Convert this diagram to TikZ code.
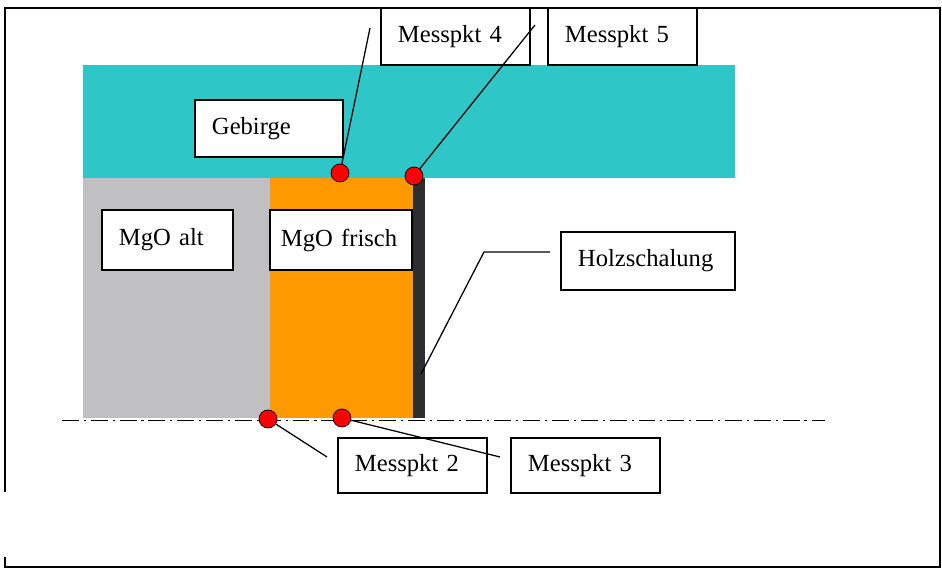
\documentclass[tikz,border=0pt]{standalone}
\usepackage{fontspec}
\setmainfont{Liberation Serif}
\usepackage{tikz}
\usetikzlibrary{calc}
\definecolor{gebirgecol}{RGB}{46,198,198}
\definecolor{altcol}{RGB}{192,192,194}
\definecolor{frischcol}{RGB}{255,153,0}
\definecolor{holzcol}{RGB}{45,45,48}
\tikzstyle{lbox} = [rectangle, 
text width=2.875cm, 
inner xsep=0.425cm, 
minimum height=1.425cm, 
align=left, 
draw=black, 
fill=white, 
line width=0.8pt, 
font=\fontsize{17.5}{20}\selectfont]
\tikzstyle{mpdot} = [circle, draw=black, fill=red, minimum size=0.45cm, inner sep=0pt, line width=0.5pt]
\tikzstyle{leader} = [line width=0.9pt]
\tikzstyle{axis} = [line width=0.7pt, dash pattern=on 12pt off 3.5pt on 1.5pt off 3.5pt]

\begin{document}
\begin{tikzpicture}[x=0.025cm, y=-0.025cm]
    \useasboundingbox (0,0) rectangle (942,570);

    % Rahmen
    \draw [line width=0.8pt] (5,492) -- (5,8) -- (940,8) -- (940,567) -- (5,567) -- (5,557);

    % Schichten
    \fill [gebirgecol] (83,65) rectangle (735,178);
    \fill [altcol] (83,178) rectangle (270,418);
    \fill [frischcol] (270,178) rectangle (413,418);
    \fill [holzcol] (413,178) rectangle (425,418);

    % Achse
    \draw [axis] (62,420) -- (825,420);

    % Beschriftungen
    \node (mp4) [lbox] at (455.5,36.5) {Messpkt 4};
    \node (mp5) [lbox] at (622.5,36.5) {Messpkt 5};
    \node (gebirge) [lbox, text width=2.85cm] at (269,128.5) {Gebirge};
    \node (mgoalt) [lbox, text width=2.425cm, minimum height=1.5cm] at (167.5,240) {MgO alt};
    \node (mgofrisch) [lbox, text width=3.0cm, inner xsep=0.275cm, minimum height=1.5cm] at (341,240) {MgO frisch};
    \node (holz) [lbox, text width=3.5cm, minimum height=1.45cm] at (648,261) {Holzschalung};
    \node (mp2) [lbox, minimum height=1.375cm] at (412.5,465.5) {Messpkt 2};
    \node (mp3) [lbox, minimum height=1.375cm] at (585.5,465.5) {Messpkt 3};

    % Messpunkte
    \node (p4) [mpdot] at (340,173) {};
    \node (p5) [mpdot] at (414,176) {};
    \node (p2) [mpdot] at (268,419) {};
    \node (p3) [mpdot] at (342,418) {};

    % Zeiger
    \coordinate (c4) at (370,28);
    \coordinate (c5) at (535,25);
    \coordinate (c2) at (327,457);
    \coordinate (c3) at (500,457);
    \coordinate (h1) at (550,252);
    \coordinate (h2) at (484,252);
    \coordinate (hs) at (421,374);
    \draw [leader] (c4) -- (p4);
    \draw [leader] (c5) -- (p5);
    \draw [leader] (p2) -- (c2);
    \draw [leader] (p3) -- (c3);
    \draw [leader] (h1) -- (h2) -- (hs);
\end{tikzpicture}
\end{document}
